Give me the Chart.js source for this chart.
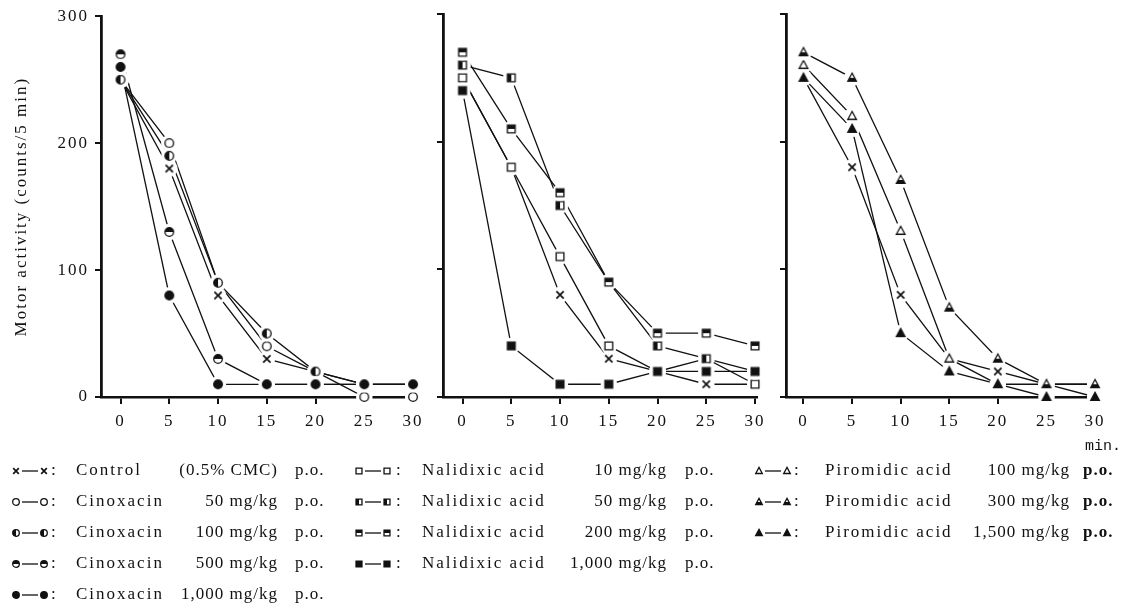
<!DOCTYPE html>
<html>
<head>
<meta charset="utf-8">
<script src="https://cdn.jsdelivr.net/npm/chart.js@4.4.1/dist/chart.umd.min.js"></script>
<style>
  body { margin: 0; background: #fff; width: 1134px; height: 610px; position: relative; overflow: hidden;
         font-family: 'Liberation Serif', serif; color: #111; }
  canvas.pane { position: absolute; top: 0; }
  .lg { position: absolute; font-size: 17px; letter-spacing: 2px; white-space: nowrap; line-height: 20px; }
  .lg.dose { letter-spacing: 1px; text-align: right; width: 200px; }
  .lg.po { letter-spacing: 1px; }
  #unit { position: absolute; left: 1085px; top: 438px; font: 15px 'Liberation Mono', monospace; }
</style>
</head>
<body>
<canvas id="c1" class="pane" width="430" height="440" style="left:0"></canvas>
<canvas id="c2" class="pane" width="349" height="440" style="left:423px"></canvas>
<canvas id="c3" class="pane" width="368" height="440" style="left:766px"></canvas>
<div id="unit">min.</div>
<div id="legend"></div>
<script>
// time after dosing (min)
var minutes = [0, 5, 10, 15, 20, 25, 30];
var yTicks = [0, 100, 200, 300];

// motor activity, counts / 5 min
var control   = [250, 180, 80, 30, 20, 10, 10];
var cinox50   = [250, 200, 90, 40, 20, 0, 0];
var cinox100  = [250, 190, 90, 50, 20, 10, 10];
var cinox500  = [270, 130, 30, 10, 10, 10, 10];
var cinox1000 = [260, 80, 10, 10, 10, 10, 10];
var nal10     = [250, 180, 110, 40, 20, 30, 10];
var nal50     = [260, 250, 150, 90, 40, 30, 20];
var nal200    = [270, 210, 160, 90, 50, 50, 40];
var nal1000   = [240, 40, 10, 10, 20, 20, 20];
var pir100    = [260, 220, 130, 30, 10, 10, 0];
var pir300    = [270, 250, 170, 70, 30, 10, 10];
var pir1500   = [250, 210, 50, 20, 10, 0, 0];

var yTitle = 'Motor activity (counts/5 min)';
var INK = '#111';

// marker glyphs: x, c(ircle), s(quare), t(riangle); L/T/B = half filled, F = filled
function drawGlyph(ctx, kind, x, y, r) {
    var shape = kind[0], fill = kind.slice(1);
    ctx.save();
    ctx.strokeStyle = INK;
    ctx.lineWidth = 1.3;
    if (shape === 'x') {
        ctx.lineWidth = 1.7;
        ctx.beginPath();
        ctx.moveTo(x - r * 0.85, y - r * 0.85); ctx.lineTo(x + r * 0.85, y + r * 0.85);
        ctx.moveTo(x + r * 0.85, y - r * 0.85); ctx.lineTo(x - r * 0.85, y + r * 0.85);
        ctx.stroke();
        ctx.restore();
        return;
    }
    function path() {
        ctx.beginPath();
        if (shape === 'c') ctx.arc(x, y, r, 0, Math.PI * 2);
        if (shape === 's') ctx.rect(x - r * 0.9, y - r * 0.9, r * 1.8, r * 1.8);
        if (shape === 't') {
            ctx.moveTo(x, y - r * 1.1);
            ctx.lineTo(x + r, y + r * 0.75);
            ctx.lineTo(x - r, y + r * 0.75);
            ctx.closePath();
        }
    }
    path();
    ctx.fillStyle = '#fff';
    ctx.fill();
    if (fill) {
        ctx.save();
        path();
        ctx.clip();
        ctx.fillStyle = INK;
        var e = r + 2;
        if (fill === 'F') ctx.fillRect(x - e, y - e, 2 * e, 2 * e);
        if (fill === 'L') ctx.fillRect(x - e, y - e, e, 2 * e);
        if (fill === 'T') ctx.fillRect(x - e, y - e, 2 * e, e);
        if (fill === 'B') ctx.fillRect(x - e, y, 2 * e, e);
        ctx.restore();
    }
    path();
    ctx.stroke();
    ctx.restore();
}

function markerImage(kind) {
    var c = document.createElement('canvas');
    c.width = 20; c.height = 20;
    var ctx = c.getContext('2d');
    ctx.fillStyle = '#fff';
    ctx.beginPath();
    ctx.arc(10, 10, 8, 0, Math.PI * 2);
    ctx.fill();
    drawGlyph(ctx, kind, 10, 10, 4.3);
    return c;
}

// put every marker back on top of all the lines so the lines stop short of them
var markersOnTop = {
    id: 'markersOnTop',
    beforeDraw: function(chart) { chart.ctx.letterSpacing = '2px'; },
    afterDatasetsDraw: function(chart) {
        chart.getSortedVisibleDatasetMetas().forEach(function(meta) {
            meta.data.forEach(function(pt) { pt.draw(chart.ctx, chart.chartArea); });
        });
    }
};

function makeChart(id, series, showLabels, xMin, yWidth, padRight) {
    var datasets = series.map(function(s) {
        return {
            data: s[0].map(function(v, i) { return { x: minutes[i], y: v }; }),
            borderColor: INK,
            borderWidth: 1.3,
            pointStyle: markerImage(s[1]),
            pointRadius: 4,
            clip: false,
            tension: 0
        };
    });
    var axisFont = { family: 'Liberation Serif', size: 17 };
    return new Chart(document.getElementById(id), {
        type: 'line',
        data: { datasets: datasets },
        options: {
            responsive: false,
            animation: false,
            layout: { padding: { top: 14, right: padRight, bottom: 0, left: 0 } },
            plugins: { legend: { display: false }, tooltip: { enabled: false } },
            scales: {
                x: {
                    type: 'linear', min: xMin, max: 30.2, z: 1,
                    afterBuildTicks: function(s) { s.ticks = minutes.map(function(v) { return { value: v }; }); },
                    afterFit: function(s) { s.height = 43; },
                    border: { color: INK, width: 2.5 },
                    grid: { drawOnChartArea: false, tickLength: 7, color: INK, lineWidth: 2 },
                    ticks: { color: INK, font: axisFont, padding: 7, maxRotation: 0, autoSkip: false }
                },
                y: {
                    min: 0, max: 300, z: 1,
                    afterBuildTicks: function(s) { s.ticks = yTicks.map(function(v) { return { value: v }; }); },
                    afterFit: function(s) { s.width = yWidth; },
                    border: { color: INK, width: 2.8 },
                    grid: { drawOnChartArea: false, tickLength: 6, color: INK, lineWidth: 2 },
                    ticks: { display: showLabels, color: INK, font: axisFont, padding: 6 },
                    title: {
                        display: showLabels, text: yTitle, color: INK,
                        font: { family: 'Liberation Serif', size: 17 },
                        padding: { top: 11, bottom: 0 }
                    }
                }
            }
        },
        plugins: [markersOnTop]
    });
}

makeChart('c1', [[control, 'x'], [cinox50, 'c'], [cinox100, 'cL'], [cinox500, 'cT'], [cinox1000, 'cF']], true, -2, 101, 15);
makeChart('c2', [[control, 'x'], [nal10, 's'], [nal50, 'sL'], [nal200, 'sT'], [nal1000, 'sF']], false, -2, 20, 15);
makeChart('c3', [[control, 'x'], [pir100, 't'], [pir300, 'tB'], [pir1500, 'tF']], false, -1.8, 20, 37);

// legend under the panels
var legendCols = [
    { mx: 11, cx: 51, nx: 76, dr: 278, px: 295 },
    { mx: 354, cx: 396, nx: 422, dr: 667, px: 685 },
    { mx: 754, cx: 794, nx: 825, dr: 1070, px: 1083 }
];
var legendRows = [471, 502, 533, 564, 595];
var legendItems = [
    [0, 0, 'x', 'Control', '(0.5% CMC)'],
    [0, 1, 'c', 'Cinoxacin', '50 mg/kg'],
    [0, 2, 'cL', 'Cinoxacin', '100 mg/kg'],
    [0, 3, 'cT', 'Cinoxacin', '500 mg/kg'],
    [0, 4, 'cF', 'Cinoxacin', '1,000 mg/kg'],
    [1, 0, 's', 'Nalidixic acid', '10 mg/kg'],
    [1, 1, 'sL', 'Nalidixic acid', '50 mg/kg'],
    [1, 2, 'sT', 'Nalidixic acid', '200 mg/kg'],
    [1, 3, 'sF', 'Nalidixic acid', '1,000 mg/kg'],
    [2, 0, 't', 'Piromidic acid', '100 mg/kg'],
    [2, 1, 'tB', 'Piromidic acid', '300 mg/kg'],
    [2, 2, 'tF', 'Piromidic acid', '1,500 mg/kg']
];
var legend = document.getElementById('legend');
function addText(txt, cls, left, top, extra) {
    var d = document.createElement('div');
    d.className = 'lg ' + cls;
    d.textContent = txt;
    d.style.left = left + 'px';
    d.style.top = top + 'px';
    if (extra) d.style.fontWeight = extra;
    legend.appendChild(d);
}
legendItems.forEach(function(it) {
    var col = legendCols[it[0]], y = legendRows[it[1]];
    var c = document.createElement('canvas');
    c.width = 38; c.height = 14;
    c.style.position = 'absolute';
    c.style.left = col.mx + 'px';
    c.style.top = (y - 7) + 'px';
    var ctx = c.getContext('2d');
    drawGlyph(ctx, it[2], 5, 7, 3.3);
    ctx.strokeStyle = INK; ctx.lineWidth = 1.3;
    ctx.beginPath(); ctx.moveTo(11, 7); ctx.lineTo(27, 7); ctx.stroke();
    drawGlyph(ctx, it[2], 33, 7, 3.3);
    legend.appendChild(c);
    addText(':', '', col.cx, y - 11);
    addText(it[3], '', col.nx, y - 11);
    addText(it[4], 'dose', col.dr - 200, y - 11);
    addText('p.o.', 'po', col.px, y - 11, it[0] === 2 ? 'bold' : '');
});
</script>
</body>
</html>
